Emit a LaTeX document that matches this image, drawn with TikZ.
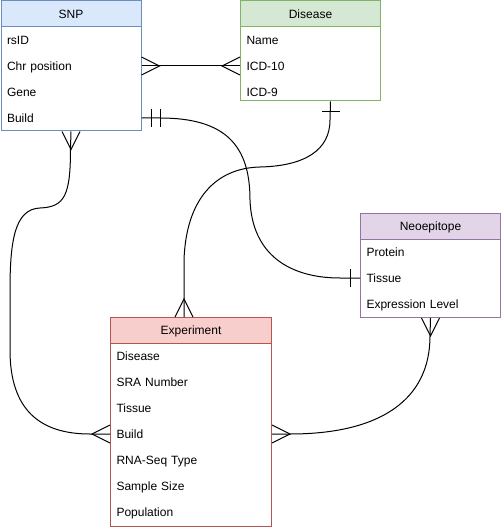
\documentclass[tikz,border=0pt]{standalone}
\usepackage{fontspec}
\setmainfont{Liberation Sans}
\usetikzlibrary{calc}
\definecolor{snpF}{HTML}{DAE8FC}\definecolor{snpS}{HTML}{6C8EBF}
\definecolor{disF}{HTML}{D5E8D4}\definecolor{disS}{HTML}{82B366}
\definecolor{neoF}{HTML}{E1D5E7}\definecolor{neoS}{HTML}{9673A6}
\definecolor{expF}{HTML}{F8CECC}\definecolor{expS}{HTML}{B85450}
\tikzset{
 lbl/.style={font=\fontsize{12}{14}\selectfont, text height=8.6pt, text depth=0pt},
 hdr/.style={lbl, inner sep=0pt, minimum height=26pt, anchor=north west},
 bodybox/.style={fill=white, inner sep=0pt, anchor=north west},
 rowA/.style={lbl, anchor=west, inner xsep=6pt, inner ysep=0pt, minimum height=26pt, align=left, text width=#1},
 crow/.pic={\draw (0,-9) -- (18,0) -- (0,9);},
 onebar/.pic={\draw (10,-9) -- (10,9);},
 twobar/.pic={\draw (10,-9) -- (10,9) (19,-9) -- (19,9);},
 conn/.style={line width=1pt}
}
\begin{document}
\begin{tikzpicture}[x=1pt,y=-1pt,line width=1pt]
\useasboundingbox (0,0) rectangle (501,529);
% SNP
\node[bodybox, draw=snpS, minimum width=140pt, minimum height=104pt] (snpbody) at (0.5,26.5) {};
\node[hdr, draw=snpS, fill=snpF, minimum width=140pt] (snp) at (0.5,0.5) {SNP};
\node[rowA=128pt] (snp1) at (0.5,40) {rsID};
\node[rowA=128pt] (snp2) at (0.5,66) {Chr position};
\node[rowA=128pt] (snp3) at (0.5,92) {Gene};
\node[rowA=128pt] (snp4) at (0.5,118) {Build};
% Disease
\node[bodybox, draw=disS, minimum width=140pt, minimum height=74pt] (disbody) at (240,26.5) {};
\node[hdr, draw=disS, fill=disF, minimum width=140pt] (dis) at (240,0.5) {Disease};
\node[rowA=128pt] (dis1) at (240,40) {Name};
\node[rowA=128pt] (dis2) at (240,66) {ICD-10};
\node[rowA=128pt] (dis3) at (240,92) {ICD-9};
% Neoepitope
\node[bodybox, draw=neoS, minimum width=140pt, minimum height=78pt] (neobody) at (360,239) {};
\node[hdr, draw=neoS, fill=neoF, minimum width=140pt] (neo) at (360,213) {Neoepitope};
\node[rowA=128pt] (neo1) at (360,252) {Protein};
\node[rowA=128pt] (neo2) at (360,278) {Tissue};
\node[rowA=128pt] (neo3) at (360,304) {Expression Level};
% Experiment
\node[bodybox, draw=expS, minimum width=161pt, minimum height=183pt] (expbody) at (110,343) {};
\node[hdr, draw=expS, fill=expF, minimum width=161pt] (exp) at (110,317) {Experiment};
\node[rowA=149pt] (exp1) at (110,356) {Disease};
\node[rowA=149pt] (exp2) at (110,382) {SRA Number};
\node[rowA=149pt] (exp3) at (110,408) {Tissue};
\node[rowA=149pt] (exp4) at (110,434) {Build};
\node[rowA=149pt] (exp5) at (110,460) {RNA-Seq Type};
\node[rowA=149pt] (exp6) at (110,486) {Sample Size};
\node[rowA=149pt] (exp7) at (110,512) {Population};
% anchor points
\coordinate (disbot) at ([xshift=20pt]disbody.south);
\coordinate (exptop) at ([xshift=-7pt]exp.north);
% connectors
\draw[conn] (snp2.east) -- (dis2.west);
\pic at (snp2.east) {crow};
\pic[rotate=180] at (dis2.west) {crow};

\draw[conn] (snp4.east) -- (160,118) .. controls (225,118) and (250,145) .. (250,200)
  .. controls (252,255) and (290,278) .. (340,278) -- (neo2.west);
\pic at (snp4.east) {twobar};
\pic[rotate=180] at (neo2.west) {onebar};

\draw[conn] (disbot) -- (330,120) .. controls (330,150) and (305,166) .. (260,167)
  .. controls (215,168) and (186,200) .. (184,260) -- (exptop);
\pic[rotate=-90] at (disbot) {onebar};
\pic[rotate=90] at (exptop) {crow};

\draw[conn] (snpbody.south) -- (70.5,148) .. controls (70.5,195) and (65,207) .. (40,208)
  .. controls (15,209) and (10,240) .. (10,290) -- (10,350)
  .. controls (10,410) and (40,434) .. (90,434) -- (exp4.west);
\pic[rotate=-90] at (snpbody.south) {crow};
\pic[rotate=180] at (exp4.west) {crow};

\draw[conn] (neobody.south) -- (430,336) .. controls (430,400) and (380,434) .. (290,434) -- (exp4.east);
\pic[rotate=-90] at (neobody.south) {crow};
\pic at (exp4.east) {crow};
\end{tikzpicture}
\end{document}
